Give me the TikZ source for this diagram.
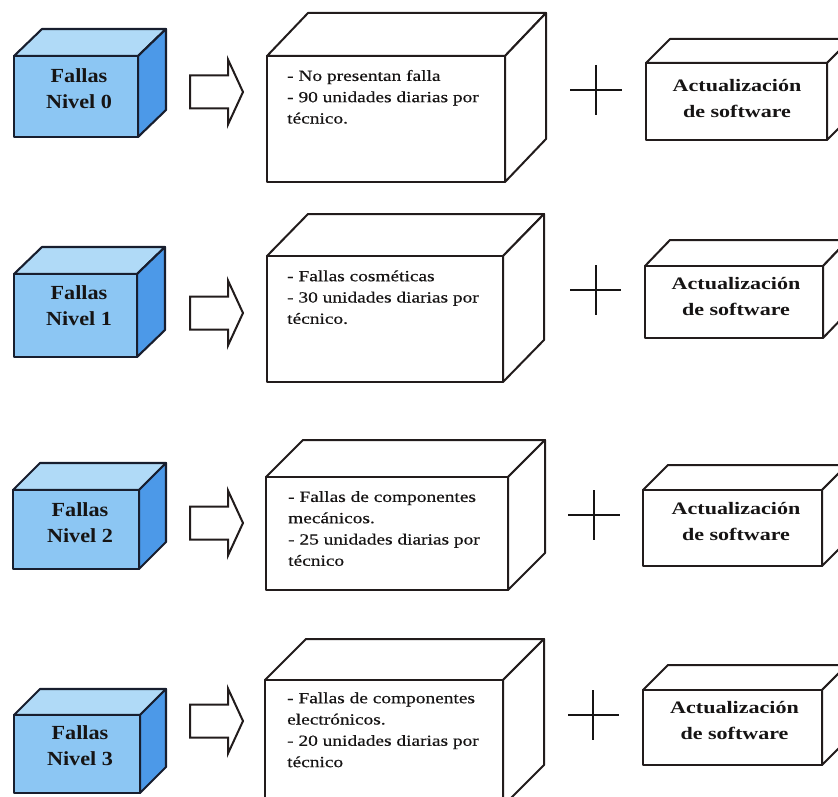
\documentclass[tikz,border=0pt]{standalone}
\usepackage{fontspec}
\usetikzlibrary{calc}
\setmainfont{Liberation Serif}
\newfontfamily\labelfont[FakeStretch=1.11]{Liberation Serif}
\newfontfamily\notefont[FakeStretch=1.25,FakeBold=0.5]{Liberation Serif}
\newfontfamily\updfont[FakeStretch=1.26]{Liberation Serif}

\definecolor{cubefront}{RGB}{140,198,243}
\definecolor{cubetop}{RGB}{176,218,247}
\definecolor{cubeside}{RGB}{76,153,232}
\definecolor{cubeedge}{RGB}{24,30,46}
\definecolor{boxedge}{RGB}{34,28,28}
\definecolor{ink}{RGB}{22,20,20}

\tikzset{
  bluetop/.style={fill=cubetop, draw=cubeedge, line width=2.1pt, line join=round},
  blueside/.style={fill=cubeside, draw=cubeedge, line width=2.1pt, line join=round},
  bluefront/.style={fill=cubefront, draw=cubeedge, line width=2.1pt, line join=round},
  plaintop/.style={fill=white, draw=boxedge, line width=2pt, line join=round},
  plainside/.style={fill=white, draw=boxedge, line width=2pt, line join=round},
  plainfront/.style={fill=white, draw=boxedge, line width=2.2pt, line join=round},
  arrowshape/.style={fill=white, draw=boxedge, line width=2pt, line join=miter},
  plusline/.style={draw=ink, line width=1.7pt},
  levellabel/.style={font={\labelfont\bfseries\fontsize{20}{26}\selectfont}, text=ink,
    align=center, inner sep=0pt},
  notetext/.style={font={\notefont\fontsize{15.5}{21.3}\selectfont}, text=ink,
    align=left, inner sep=0pt, anchor=north west},
  updtext/.style={font={\updfont\bfseries\fontsize{17.5}{26}\selectfont}, text=ink,
    align=center, inner sep=0pt},
}

% cuboid: name, face style prefix, front top-left x,y, front bottom-right x,y, depth offset
\newcommand\cuboid[7]{%
  \coordinate (#1-tl) at (#3,#4);
  \coordinate (#1-tr) at (#5,#4);
  \coordinate (#1-br) at (#5,#6);
  \path[#2top] (#1-tl) -- ($(#1-tl)+(#7)$) -- ($(#1-tr)+(#7)$) -- (#1-tr) -- cycle;
  \path[#2side] (#1-tr) -- ($(#1-tr)+(#7)$) -- ($(#1-br)+(#7)$) -- (#1-br) -- cycle;
  \path[#2front] (#1-tl) rectangle (#1-br);
}

% block arrow pointing right, centred vertically on #2
\newcommand\blockarrow[2]{%
  \path[arrowshape] (190,#2-16.5) coordinate (#1) -- (228,#2-16.5) -- (228,#2-32.5)
    -- (243,#2) -- (228,#2+32.5) -- (228,#2+16.5) -- (190,#2+16.5) -- cycle;
}

% plus sign: horizontal from #2 to #3 at height #5, vertical at #4 from #5-25 to #5+25
\newcommand\plussign[5]{%
  \coordinate (#1) at (#4,#5);
  \draw[plusline] (#2,#5) -- (#3,#5);
  \draw[plusline] ($(#1)+(0,-25)$) -- ($(#1)+(0,25)$);
}

\begin{document}
\begin{tikzpicture}[x=1pt,y=-1pt]
\useasboundingbox (0,0) rectangle (838,797);
\clip (0,0) rectangle (838,797);

% ---------- level 0 ----------
\cuboid{c0}{blue}{14}{56}{138}{137}{28,-27}
\node[levellabel] (l0) at (79,88.2) {Fallas\\Nivel 0};
\blockarrow{a0}{92}
\cuboid{n0}{plain}{267}{56}{505}{182}{41,-43}
\node[notetext] (t0) at (287,65.8) {\strut- No presentan falla\\- 90 unidades diarias por\\técnico.};
\plussign{p0}{570}{622}{596}{90}
\cuboid{u0}{plain}{646}{63}{827}{140}{24,-24}
\node[updtext] (s0) at (737,98.7) {Actualización\\de software};

% ---------- level 1 ----------
\cuboid{c1}{blue}{14}{274}{137}{357}{28,-27}
\node[levellabel] (l1) at (79,306) {Fallas\\Nivel 1};
\blockarrow{a1}{313}
\cuboid{n1}{plain}{267}{256}{503}{382}{41,-42}
\node[notetext] (t1) at (287,266.1) {\strut- Fallas cosméticas\\- 30 unidades diarias por\\técnico.};
\plussign{p1}{570}{621}{596}{290}
\cuboid{u1}{plain}{645}{266}{823}{338}{25,-26}
\node[updtext] (s1) at (736,297) {Actualización\\de software};

% ---------- level 2 ----------
\cuboid{c2}{blue}{13}{490}{139}{569}{27,-27}
\node[levellabel] (l2) at (80,522.8) {Fallas\\Nivel 2};
\blockarrow{a2}{523}
\cuboid{n2}{plain}{266}{477}{508}{590}{37,-37}
\node[notetext] (t2) at (288,486.8) {\strut- Fallas de componentes\\mecánicos.\\- 25 unidades diarias por\\técnico};
\plussign{p2}{568}{620}{594}{515}
\cuboid{u2}{plain}{643}{490}{822}{566}{25,-25}
\node[updtext] (s2) at (736,522) {Actualización\\de software};

% ---------- level 3 ----------
\cuboid{c3}{blue}{14}{715}{140}{793}{26,-26}
\node[levellabel] (l3) at (80,746) {Fallas\\Nivel 3};
\blockarrow{a3}{721}
\cuboid{n3}{plain}{265}{680}{503}{806}{41,-41}
\node[notetext] (t3) at (287,688.1) {\strut- Fallas de componentes\\electrónicos.\\- 20 unidades diarias por\\técnico};
\plussign{p3}{568}{619}{593}{715}
\cuboid{u3}{plain}{643}{690}{822}{765}{25,-25}
\node[updtext] (s3) at (734.5,720) {Actualización\\de software};
\end{tikzpicture}
\end{document}
